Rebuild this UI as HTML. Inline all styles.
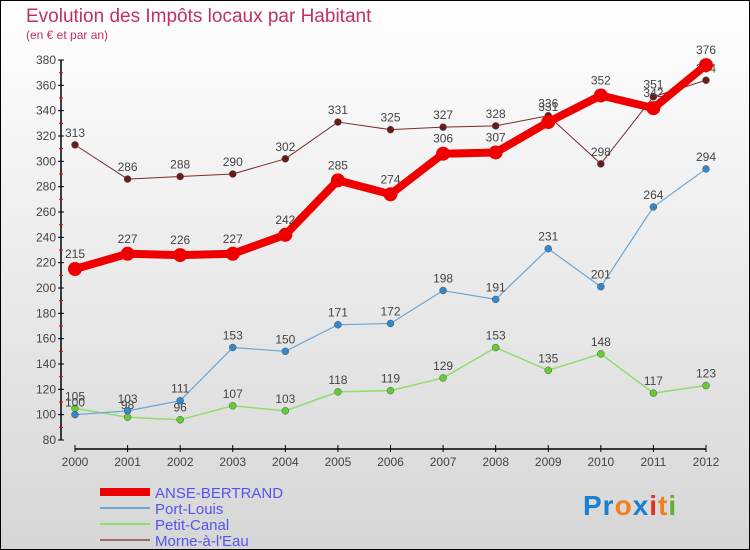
<!DOCTYPE html>
<html><head><meta charset="utf-8"><style>
body{margin:0;width:750px;height:550px;overflow:hidden}
svg{display:block;font-family:"Liberation Sans",sans-serif}
</style></head><body>
<svg width="750" height="550" viewBox="0 0 750 550">
<defs><linearGradient id="bg" x1="0" y1="0" x2="0" y2="1"><stop offset="0" stop-color="#ffffff"/><stop offset="1" stop-color="#d6d6d6"/></linearGradient></defs>
<rect x="0.5" y="0.5" width="749" height="549" fill="url(#bg)" stroke="#000"/>
<text x="26" y="22" font-size="19" fill="#c0315e">Evolution des Impôts locaux par Habitant</text>
<text x="26" y="39" font-size="12" fill="#c0315e">(en € et par an)</text>
<g id="axes"></g>
<g id="series"></g>
<g id="legend"></g>
<text x="583" y="515" font-size="28" font-weight="bold" letter-spacing="1"><tspan fill="#1a7fd0">Pr</tspan><tspan fill="#f08020">o</tspan><tspan fill="#1a7fd0">x</tspan><tspan fill="#e03020">i</tspan><tspan fill="#f08020">t</tspan><tspan fill="#60b030">i</tspan></text>
</svg>
<script>
const years=[2000,2001,2002,2003,2004,2005,2006,2007,2008,2009,2010,2011,2012];
const anse=[215,227,226,227,242,285,274,306,307,331,352,342,376];
const portLouis=[100,103,111,153,150,171,172,198,191,231,201,264,294];
const petitCanal=[105,98,96,107,103,118,119,129,153,135,148,117,123];
const morne=[313,286,288,290,302,331,325,327,328,336,298,351,364];
const yTicks=[80,100,120,140,160,180,200,220,240,260,280,300,320,340,360,380];
const names=["ANSE-BERTRAND","Port-Louis","Petit-Canal","Morne-à-l'Eau"];
const NS="http://www.w3.org/2000/svg";
const x=i=>75+i*(706-75)/(years.length-1);
const y=v=>440-(v-80)*(380/300);
function mk(tag,attrs,parent){const e=document.createElementNS(NS,tag);for(const k in attrs)e.setAttribute(k,attrs[k]);parent.appendChild(e);return e;}
const axes=document.getElementById('axes');
let a=mk('line',{x1:61,y1:y(380),x2:61,y2:y(80),stroke:'#000','stroke-width':1.5},axes);


yTicks.forEach(t=>{
 mk('line',{x1:58,x2:64,y1:y(t),y2:y(t),stroke:'#000'},axes);
 if(t<380) mk('line',{x1:59,x2:63,y1:y(t+10),y2:y(t+10),stroke:'#e00'},axes);
 const tx=mk('text',{x:56,y:y(t)+4,'font-size':12,fill:'#444','text-anchor':'end'},axes);
 tx.textContent=t;
 
 
});
a=mk('line',{x1:x(0),y1:449,x2:x(12),y2:449,stroke:'#000','stroke-width':1.5},axes);


years.forEach((yr,i)=>{
 mk('line',{x1:x(i),x2:x(i),y1:445,y2:452,stroke:'#000'},axes);
 const tx=mk('text',{x:x(i),y:466,'font-size':12,fill:'#444','text-anchor':'middle'},axes);
 tx.textContent=yr;
 
 
});
const seriesDefs=[
 {d:morne,c:'#7a2a2a',pc:'#6b1a1a',w:1,r:3.5,n:'morne-a-l-eau'},
 {d:petitCanal,c:'#90dd70',pc:'#66cc33',w:1.5,r:3.5,n:'petit-canal'},
 {d:portLouis,c:'#6aa6d6',pc:'#3388cc',w:1.2,r:3.5,n:'port-louis'},
 {d:anse,c:'#ee0000',pc:'#ee0000',w:8,r:7,n:'anse-bertrand'}];
const sg=document.getElementById('series');
seriesDefs.forEach(s=>{
 const g=mk('g',{},sg);
 
 
 const pl=mk('polyline',{points:s.d.map((v,i)=>x(i)+','+y(v)).join(' '),fill:'none',stroke:s.c,'stroke-width':s.w,'stroke-linejoin':'round'},g);
 
 
 s.d.forEach((v,i)=>{
  const c=mk('circle',{cx:x(i),cy:y(v),r:s.r,fill:s.pc,stroke:s.w<2?'#555':'none','stroke-width':0.5},g);
  
  
  const t=mk('text',{x:x(i),y:y(v)-(s.w>2?11:8),'font-size':12,fill:'#444','text-anchor':'middle'},g);
  t.textContent=v;
  
  
 });
});
const lg=document.getElementById('legend');
const lc=['#ee0000','#6aa6d6','#90dd70','#a06a6a'],lw=[8,2,2,2];
names.forEach((n,i)=>{
 const yy=492+i*16;
 const g=mk('g',{},lg);
 
 
 mk('line',{x1:100,x2:150,y1:yy,y2:yy,stroke:lc[i],'stroke-width':lw[i]},g);
 const t=mk('text',{x:155,y:yy+6,'font-size':15,fill:'#5555ee'},g);
 t.textContent=n;
});
</script>
</body></html>
